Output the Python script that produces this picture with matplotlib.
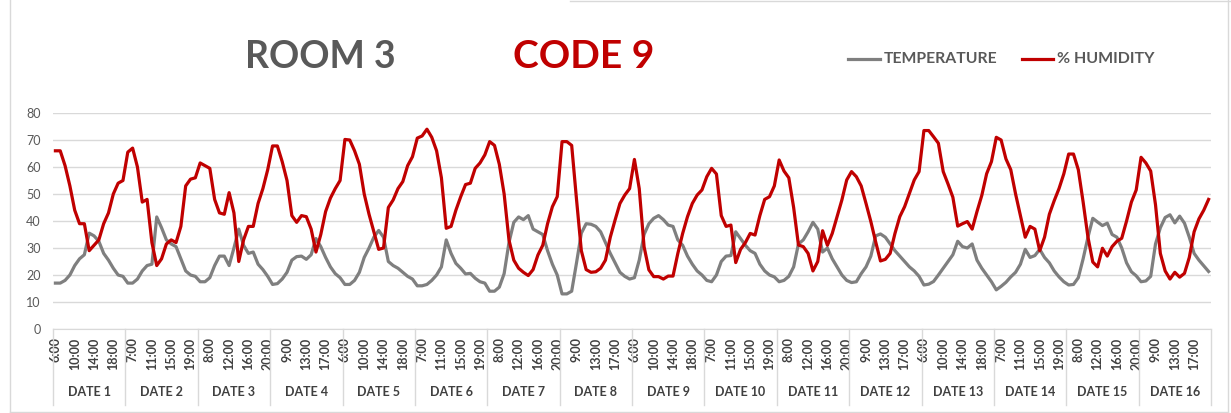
import matplotlib
matplotlib.use("Agg")
import matplotlib.pyplot as plt
from matplotlib.lines import Line2D
import matplotlib.transforms as mtransforms

plt.rcParams['font.family'] = ['Lato', 'DejaVu Sans']

dates = ["DATE %d" % d for d in range(1, 17)]
hours = list(range(6, 21))  # 6:00 .. 20:00 for each date

temperature = [
    17, 17, 18, 20, 23.5, 26, 27.5, 35.5, 34.5, 32.5, 28, 25.5, 22.5, 20, 19.5,
    17, 17, 18.5, 21.5, 23.5, 24, 41.5, 37.5, 33, 31.5, 30.5, 26, 21.5, 20, 19.5,
    17.5, 17.5, 19, 23.5, 27, 27, 23.5, 30, 37, 31, 28, 28.5, 24, 22, 19.5,
    16.5, 16.8, 18.5, 21, 25.5, 26.8, 27, 25.8, 27.5, 33.5, 30.5, 26.5, 23, 20.5, 19,
    16.5, 16.5, 18, 21, 26.5, 30, 34, 36.5, 34, 25, 23.5, 22.5, 21, 19.5, 18.5,
    16, 16, 16.5, 18, 20, 23, 33, 28, 24.3, 22.5, 20.4, 20.6, 18.8, 17.5, 17,
    14, 14, 15.5, 20.5, 32, 39.5, 41.5, 40.5, 42, 37, 36, 35, 29, 24, 20,
    13, 13, 14, 24.5, 35.5, 39, 38.8, 38, 36, 32, 28, 24.5, 21, 19.5, 18.5,
    19, 25.5, 35, 39, 41, 42, 40.5, 38.5, 38, 33, 31, 27, 24, 21.5, 20,
    18, 17.5, 20, 25, 27, 27.2, 36, 33.5, 31, 29, 28, 24, 21.5, 20, 19.3,
    17.5, 18, 19.5, 23, 31.5, 33, 36, 39.5, 37, 28.5, 30, 26, 23, 20, 18,
    17.2, 17.5, 20.5, 23, 27, 34.5, 35.2, 34, 31.5, 29, 27, 25, 23, 21.5, 19.5,
    16.3, 16.6, 17.6, 20, 22.5, 25, 27.5, 32.5, 30.5, 30, 31.5, 25.5, 22.5, 20, 17.5,
    14.5, 15.8, 17.3, 19.3, 21, 24, 29.5, 26.5, 27.2, 29.5, 26.5, 24.5, 21.5, 19.3, 17.5,
    16.3, 16.5, 19, 26, 34, 41, 39.6, 38.3, 39.2, 35, 34, 30, 24.5, 21.2, 19.7,
    17.5, 17.8, 19.5, 31.5, 37.5, 41.3, 42.3, 39.3, 41.8, 39.2, 34, 28, 25.5, 23.4, 21.3,
]

humidity = [
    66, 66, 60.5, 53, 44, 39, 39, 29, 31, 33, 39, 43, 50, 54, 55,
    65.5, 67, 60, 47, 48, 32, 23.5, 26, 31.5, 33, 32, 38, 53, 55.5, 56,
    61.5, 60.5, 59.5, 48, 43, 42.5, 50.5, 43, 25, 33, 38, 38, 46.5, 52, 59,
    67.8, 67.8, 62, 55, 42, 39.5, 42, 41.6, 37, 28.5, 35, 43.5, 48.5, 52, 55,
    70.2, 70, 66, 61, 50, 42.5, 36, 29.5, 30, 45, 47.8, 52, 54.6, 60.5, 63.8,
    70.7, 71.5, 74, 71, 66, 56, 37.3, 38, 44, 49, 53.5, 54, 59.5, 61.5, 64.5,
    69.4, 68, 61, 50, 33, 25.5, 22.5, 21, 19.8, 22, 27.4, 31, 39, 45.3, 49,
    69.4, 69.4, 68, 48, 29, 22, 21, 21.2, 22.5, 25.5, 34, 40.4, 46.5, 49.6, 52,
    62.8, 52, 30.5, 21.9, 19.4, 19.4, 18.5, 19.6, 19.6, 28, 35.4, 41.6, 46.5, 49.6, 51.5,
    56.4, 59.5, 57.4, 42, 38, 38.5, 24.6, 29.5, 32, 35.4, 34.8, 42, 48, 49, 53,
    62.6, 58.5, 56, 45, 31.1, 30.5, 28, 21.5, 25, 36.4, 31, 35.4, 41.6, 47.8, 55.2,
    58.3, 56.4, 53, 46.5, 39.8, 32.3, 25.2, 25.8, 28, 35.4, 41.6, 45.3, 50.2, 55.2, 58.3,
    73.5, 73.5, 71.2, 68.8, 58.3, 53.7, 48.8, 38.1, 39, 39.8, 37, 43.5, 49.5, 57.5, 62,
    71, 70, 63, 59, 50, 42, 34, 38, 37, 29, 34, 42.5, 47.5, 52, 57.5,
    64.8, 64.8, 59, 47, 34, 24.8, 23, 29.9, 27, 30.5, 32.5, 33.6, 40, 47, 51.5,
    63.6, 61.5, 58.5, 46, 28, 21.5, 18.5, 21, 19.2, 20.6, 26.5, 36, 40.8, 44, 48,
]

W, H = 1231, 413
fig = plt.figure(figsize=(W / 100, H / 100), dpi=100)

L, R, T, B = 53, 1211, 113, 329
ax = fig.add_axes([L / W, (H - B) / H, (R - L) / W, (B - T) / H])

GRAY = '#7f7f7f'
RED = '#c00000'
TXT = '#595959'
GRID = '#d9d9d9'

n_per = len(hours)
n = len(dates) * n_per
xs = list(range(n))
ax.plot(xs, temperature, color=GRAY, lw=2.3, solid_joinstyle='round', zorder=3)
ax.plot(xs, humidity, color=RED, lw=2.3, solid_joinstyle='round', zorder=4)

ax.set_xlim(-0.5, n - 0.5)
ax.set_ylim(0, 80)
ax.set_yticks(range(0, 81, 10))
ax.yaxis.grid(True, color=GRID, lw=1)
ax.set_axisbelow(True)
for s in ['left', 'right', 'top']:
    ax.spines[s].set_visible(False)
ax.spines['bottom'].set_color(GRID)
ax.tick_params(axis='y', length=0, pad=9, labelsize=9, labelcolor=TXT)

tick_pos = [i for i in xs if i % 4 == 0]
tick_lab = ["%d:00" % hours[i % n_per] for i in tick_pos]
ax.set_xticks(tick_pos)
ax.set_xticklabels(tick_lab, rotation=90, fontsize=9, color='#404040', fontweight='bold')
ax.tick_params(axis='x', length=0, pad=6)

trans = mtransforms.blended_transform_factory(ax.transData, ax.transAxes)
sep_bottom = -(405 - B) / (B - T)
for k in range(len(dates) + 1):
    ax.add_line(Line2D([k * n_per - 0.5] * 2, [0, sep_bottom], transform=trans,
                       color=GRID, lw=1, clip_on=False))
date_y = -(392 - B) / (B - T)
for k, d in enumerate(dates):
    ax.text(k * n_per + (n_per - 1) / 2, date_y, d, transform=trans, ha='center', va='center',
            fontsize=9, color='#404040', fontweight='bold')

# titles
fig.text(320.5 / W, 1 - 57 / H, "ROOM 3", ha='center', va='center', fontsize=27,
         fontweight='bold', color=TXT)
fig.text(584 / W, 1 - 57 / H, "CODE 9", ha='center', va='center', fontsize=28,
         fontweight='bold', color=RED)

# legend
ly = 1 - 59 / H
fig.add_artist(Line2D([848 / W, 880 / W], [ly, ly], color=GRAY, lw=2.3))
fig.text(884 / W, ly, "TEMPERATURE", ha='left', va='center', fontsize=11.3,
         fontweight='bold', color=TXT)
fig.add_artist(Line2D([1022 / W, 1053 / W], [ly, ly], color=RED, lw=2.3))
fig.text(1057 / W, ly, "% HUMIDITY", ha='left', va='center', fontsize=11.5,
         fontweight='bold', color=TXT)

# chart border
bc = '#d9d9d9'
fig.add_artist(Line2D([10 / W, 10 / W], [1 - 412 / H, 1], color=bc, lw=1))
fig.add_artist(Line2D([1228 / W, 1228 / W], [1 - 412 / H, 1], color=bc, lw=1))
fig.add_artist(Line2D([10 / W, 1228 / W], [1 - 411.5 / H, 1 - 411.5 / H], color=bc, lw=1))
fig.add_artist(Line2D([570 / W, 1], [1 - 0.5 / H, 1 - 0.5 / H], color=bc, lw=1))

fig.savefig("out.png", dpi=100, facecolor='white')
